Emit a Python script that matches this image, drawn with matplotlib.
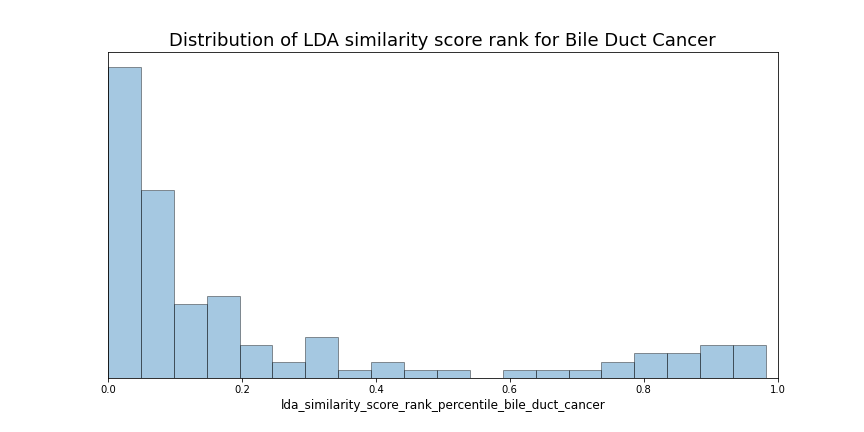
import numpy as np
import matplotlib
matplotlib.use("Agg")
import matplotlib.pyplot as plt

# bin counts (20 equal bins)
counts = [38, 23, 9, 10, 4, 2, 5, 1, 2, 1, 1, 0, 1, 1, 1, 2, 3, 3, 4, 4]
data_min = 0.0
data_max = 0.9825
title = "Distribution of LDA similarity score rank for Bile Duct Cancer"
xlabel = "lda_similarity_score_rank_percentile_bile_duct_cancer"

edges = np.linspace(data_min, data_max, len(counts) + 1)

fig, ax = plt.subplots(figsize=(12, 6), dpi=72)
fig.subplots_adjust(left=0.125, right=0.9, top=0.88, bottom=0.125)

ax.hist(edges[:-1], bins=edges, weights=counts, color="#1f77b4",
        alpha=0.4, edgecolor="k", linewidth=1.0)

ax.set_xlim(0, 1)
ax.set_yticks([])
ax.set_title(title, fontsize=18)
ax.set_xlabel(xlabel, fontsize=12)

plt.savefig("out.png")
